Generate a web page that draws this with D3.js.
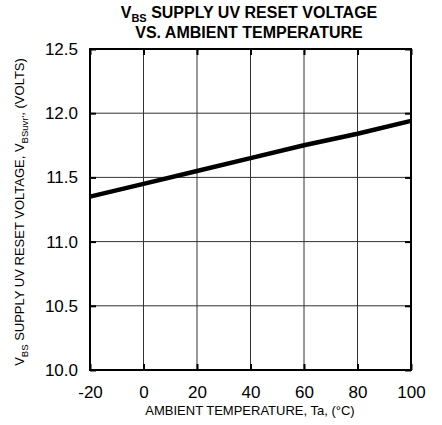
<!DOCTYPE html>
<html><head><meta charset="utf-8">
<script src="https://cdn.jsdelivr.net/npm/d3@7"></script>
<style>body{margin:0;background:#fff}text{font-family:"Liberation Sans",Arial,sans-serif}</style>
</head><body>
<script>
const temps = [-20, 0, 20, 40, 60, 80, 100];
const volts = [11.35, 11.45, 11.55, 11.65, 11.75, 11.84, 11.94];
const xTicks = [-20, 0, 20, 40, 60, 80, 100];
const yTicks = [10.0, 10.5, 11.0, 11.5, 12.0, 12.5];

const W = 442, H = 425;
const m = {l: 90, r: 31, t: 49, b: 55};
const svg = d3.select("body").append("svg").attr("width", W).attr("height", H);
const x = d3.scaleLinear().domain([-20, 100]).range([m.l, W - m.r]);
const y = d3.scaleLinear().domain([10, 12.5]).range([H - m.b, m.t]);

// grid
const g = svg.append("g");
g.selectAll(".vg").data(xTicks).join("line")
  .attr("x1", d => x(d)).attr("x2", d => x(d)).attr("y1", y(10)).attr("y2", y(12.5))
  .attr("stroke", "#333").attr("stroke-width", 1);
g.selectAll(".hg").data(yTicks).join("line")
  .attr("x1", x(-20)).attr("x2", x(100)).attr("y1", d => y(d)).attr("y2", d => y(d))
  .attr("stroke", "#333").attr("stroke-width", 1);

// axes with inward ticks
const xa = svg.append("g").attr("transform", `translate(0,${y(10)})`)
  .call(d3.axisBottom(x).tickValues(xTicks).tickSize(-6).tickPadding(16).tickFormat(d => String(d)));
const ya = svg.append("g").attr("transform", `translate(${x(-20)},0)`)
  .call(d3.axisLeft(y).tickValues(yTicks).tickSize(-6).tickPadding(12).tickFormat(d => d.toFixed(1)));
const xt = svg.append("g").attr("transform", `translate(0,${y(12.5)})`)
  .call(d3.axisTop(x).tickValues(xTicks).tickSize(-6).tickFormat(""));
const yr = svg.append("g").attr("transform", `translate(${x(100)},0)`)
  .call(d3.axisRight(y).tickValues(yTicks).tickSize(-6).tickFormat(""));
[xa, ya, xt, yr].forEach(a => {
  a.select(".domain").remove();
  a.selectAll(".tick line").attr("stroke", "#000").attr("stroke-width", 2);
});
[xa, ya].forEach(a => a.selectAll(".tick text").attr("font-size", 17).attr("fill", "#000")
  .attr("font-family", '"Liberation Sans", Arial, sans-serif'));

// frame
svg.append("rect").attr("x", x(-20)).attr("y", y(12.5))
  .attr("width", x(100) - x(-20)).attr("height", y(10) - y(12.5))
  .attr("fill", "none").attr("stroke", "#000").attr("stroke-width", 2);

// data line
svg.append("path").datum(temps.map((t, i) => [t, volts[i]]))
  .attr("fill", "none").attr("stroke", "#000").attr("stroke-width", 4.5)
  .attr("d", d3.line().x(d => x(d[0])).y(d => y(d[1])));

// title
const title = svg.append("text").attr("text-anchor", "middle").attr("font-weight", "bold").attr("font-size", 16);
const t1 = title.append("tspan").attr("x", 249).attr("y", 18);
t1.append("tspan").text("V");
t1.append("tspan").attr("font-size", 11).attr("dy", 4).text("BS");
t1.append("tspan").attr("dy", -4).text(" SUPPLY UV RESET VOLTAGE");
title.append("tspan").attr("x", 249).attr("y", 38).text("VS. AMBIENT TEMPERATURE");

// x title
svg.append("text").attr("x", 250).attr("y", 415).attr("text-anchor", "middle")
  .attr("font-size", 13).text("AMBIENT TEMPERATURE, Ta, (°C)");

// y title
const yl = svg.append("text").attr("transform", "translate(24,212) rotate(-90)")
  .attr("text-anchor", "middle").attr("font-size", 13);
yl.append("tspan").text("V");
yl.append("tspan").attr("font-size", 9.5).attr("dy", 4).text("BS");
yl.append("tspan").attr("dy", -4).text(" SUPPLY UV RESET VOLTAGE, V");
yl.append("tspan").attr("font-size", 9.5).attr("dy", 4).text("BSuvr'");
yl.append("tspan").attr("dy", -4).text(", (VOLTS)");
</script>
</body></html>
